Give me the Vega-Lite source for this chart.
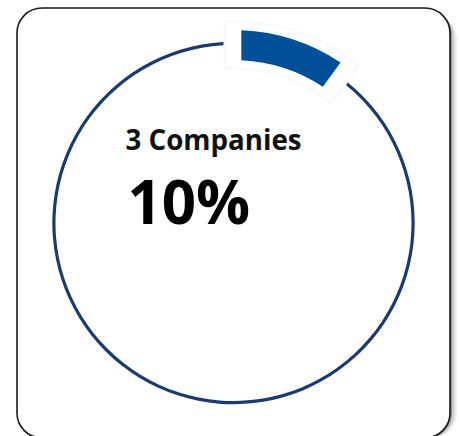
{
  "$schema": "https://vega.github.io/schema/vega-lite/v6.json",
  "width": 433,
  "height": 430,
  "autosize": "none",
  "padding": {"left": 17, "top": 8, "right": 9, "bottom": 0},
  "config": {"view": {"stroke": null}},
  "datasets": {
    "shares": [
      {"category": "3 Companies", "share": 0.10},
      {"category": "Other companies", "share": 0.90}
    ],
    "card": [{"card": "frame"}]
  },
  "layer": [
    {
      "data": {"name": "card"},
      "mark": {"type": "rect", "fill": "#eeeeee", "cornerRadius": 25, "xOffset": 7, "x2Offset": 7, "yOffset": 7, "y2Offset": 7},
      "encoding": {}
    },
    {
      "data": {"name": "card"},
      "mark": {"type": "rect", "fill": "#cfcfcf", "cornerRadius": 25, "xOffset": 4.5, "x2Offset": 4.5, "yOffset": 4.5, "y2Offset": 4.5},
      "encoding": {}
    },
    {
      "data": {"name": "card"},
      "mark": {"type": "rect", "fill": "#8f8f8f", "cornerRadius": 25, "xOffset": 2, "x2Offset": 2, "yOffset": 2, "y2Offset": 2},
      "encoding": {}
    },
    {
      "data": {"name": "card"},
      "mark": {"type": "rect", "fill": "#ffffff", "stroke": "#1a1a1a", "strokeWidth": 1.6, "cornerRadius": 25},
      "encoding": {}
    },
    {
      "data": {"name": "shares"},
      "mark": {"type": "arc", "radius": 181.2, "radius2": 178, "color": "#1b3a70"},
      "encoding": {
        "theta": {"field": "share", "type": "quantitative", "stack": true, "scale": {"domain": [0, 1]}},
        "order": {"field": "share", "type": "quantitative"}
      }
    },
    {
      "data": {"name": "shares"},
      "transform": [{"filter": "datum.category === '3 Companies'"}],
      "mark": {"type": "arc", "radius": 193, "radius2": 163, "fill": "#fafafa", "stroke": "#fafafa", "strokeWidth": 20},
      "encoding": {
        "theta": {"field": "share", "type": "quantitative", "stack": true, "scale": {"domain": [0, 1]}}
      }
    },
    {
      "data": {"name": "shares"},
      "transform": [{"filter": "datum.category === '3 Companies'"}],
      "mark": {"type": "arc", "radius": 193, "radius2": 163, "fill": "#ffffff", "stroke": "#ffffff", "strokeWidth": 14},
      "encoding": {
        "theta": {"field": "share", "type": "quantitative", "stack": true, "scale": {"domain": [0, 1]}}
      }
    },
    {
      "data": {"name": "shares"},
      "transform": [{"filter": "datum.category === '3 Companies'"}],
      "mark": {"type": "arc", "radius": 193, "radius2": 163, "padAngle": 0.062, "fill": "#004f98"},
      "encoding": {
        "theta": {"field": "share", "type": "quantitative", "stack": true, "scale": {"domain": [0, 1]}}
      }
    },
    {
      "data": {"name": "shares"},
      "transform": [{"filter": "datum.category === '3 Companies'"}],
      "mark": {"type": "text", "align": "left", "baseline": "alphabetic", "font": "Open Sans", "fontWeight": "bold", "fontSize": 27.7, "color": "#111111", "dx": -108, "dy": -73.5},
      "encoding": {"text": {"field": "category", "type": "nominal"}}
    },
    {
      "data": {"name": "shares"},
      "transform": [{"filter": "datum.category === '3 Companies'"}],
      "mark": {"type": "text", "align": "left", "baseline": "alphabetic", "font": "Open Sans", "fontWeight": "bold", "fontSize": 60, "color": "#000000", "dx": -106, "dy": 1},
      "encoding": {"text": {"field": "share", "type": "quantitative", "format": ".0%"}}
    }
  ]
}
